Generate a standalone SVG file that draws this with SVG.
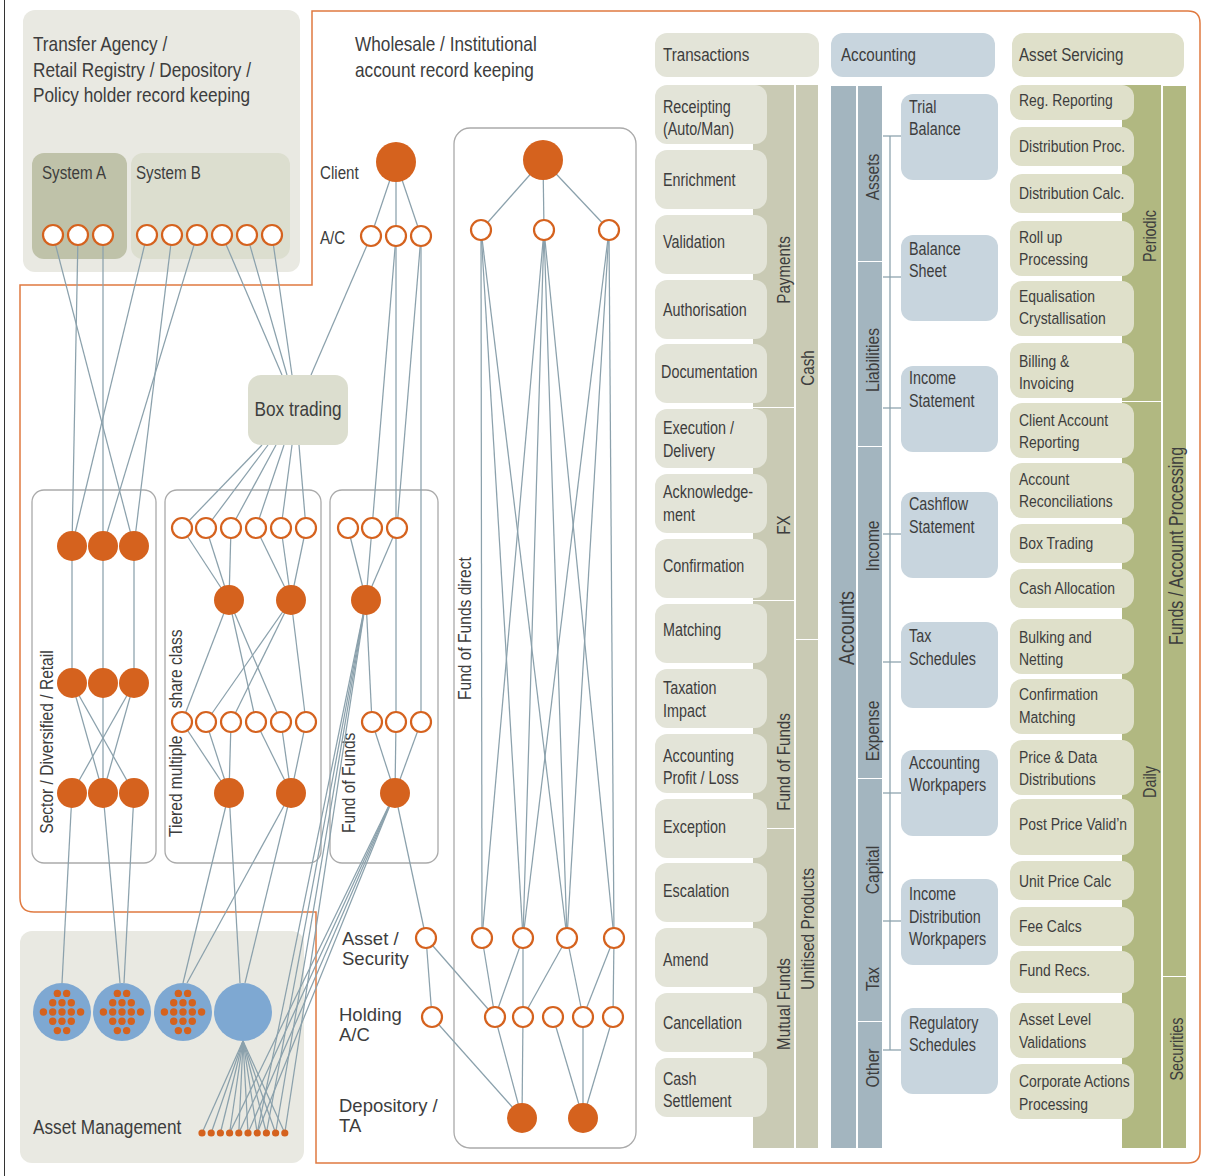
<svg xmlns="http://www.w3.org/2000/svg" width="1206" height="1176" viewBox="0 0 1206 1176">
<defs>
<style>
.t{font-family:"Liberation Sans",Arial,sans-serif;fill:#3d3d3d;font-size:17.5px}
.h{font-size:21px}
.hd{font-size:18.5px}
.w{font-family:"Liberation Sans",Arial,sans-serif;font-size:18.5px;fill:#3d3d3d}
.v{font-size:19px}
.oc{fill:#fff;stroke:#d5621e;stroke-width:2.2}
.fc{fill:#d5621e}
.ln{stroke:#8ba1ac;stroke-width:1.25;fill:none}
.grp{fill:none;stroke:#aaaaaa;stroke-width:1.3}
.bg{fill:#e9e9e2}
.tx{fill:#e3e4d8}
.txb{fill:#c9cab4}
.ac{fill:#c8d5de}
.acb{fill:#a3b5bf}
.as{fill:#dfe0ca}
.asb{fill:#b1b881}
.blue{fill:#7ea8d2}
</style>
<g id="dotpat" class="fc">
<circle cx="-4.65" cy="-18.6" r="3.7"/><circle cx="4.65" cy="-18.6" r="3.7"/>
<circle cx="-9.3" cy="-9.3" r="3.7"/><circle cx="0" cy="-9.3" r="3.7"/><circle cx="9.3" cy="-9.3" r="3.7"/>
<circle cx="-18.6" cy="0" r="3.7"/><circle cx="-9.3" cy="0" r="3.7"/><circle cx="0" cy="0" r="3.7"/><circle cx="9.3" cy="0" r="3.7"/><circle cx="18.6" cy="0" r="3.7"/>
<circle cx="-9.3" cy="9.3" r="3.7"/><circle cx="0" cy="9.3" r="3.7"/><circle cx="9.3" cy="9.3" r="3.7"/>
<circle cx="-4.65" cy="18.6" r="3.7"/><circle cx="4.65" cy="18.6" r="3.7"/>
</g>
</defs>
<rect width="1206" height="1176" fill="#fff"/>
<line x1="4.5" y1="0" x2="4.5" y2="1176" stroke="#333" stroke-width="1"/>

<g id="ta-panel">
<rect class="bg" x="23" y="10" width="277" height="262" rx="12"/>
<g class="t h" transform="translate(33 0) scale(.82 1)">
<text x="0" y="51.5">Transfer Agency /</text>
<text x="0" y="77.5">Retail Registry / Depository /</text>
<text x="0" y="102.5">Policy holder record keeping</text>
</g>
</g>
<g id="system-a"><rect x="32" y="153" width="95" height="106" rx="12" fill="#bfc2a9"/><text class="t hd" transform="translate(42 179) scale(.82 1)">System A</text></g>
<g id="system-b"><rect x="131" y="153" width="159" height="106" rx="12" fill="#dcdecf"/><text class="t hd" transform="translate(136 179) scale(.82 1)">System B</text></g>
<g id="am-panel"><rect class="bg" x="20" y="931" width="284" height="232" rx="12"/><text class="t h" transform="translate(33 1134) scale(.82 1)">Asset Management</text></g>

<path d="M312,285 L312,11 L1188,11 Q1200,11 1200,23 L1200,1151 Q1200,1163 1188,1163 L316,1163 L316,912 L34,912 Q20,912 20,898 L20,285 Z" fill="none" stroke="#e07a40" stroke-width="1.5"/>

<g id="wholesale-title" class="t h" transform="translate(355 0) scale(.82 1)">
<text x="0" y="51.5">Wholesale / Institutional</text>
<text x="0" y="77.5">account record keeping</text>
</g>

<g id="group-boxes">
<g id="sector-box"><rect class="grp" x="32" y="490" width="124" height="373" rx="12"/><text class="t v" transform="translate(53,742) rotate(-90) scale(.82 1)" text-anchor="middle">Sector / Diversified / Retail</text></g>
<g id="tiered-box"><rect class="grp" x="165" y="490" width="156" height="373" rx="12"/><text class="t v" transform="translate(182,837) rotate(-90) scale(.82 1)">Tiered multiple<tspan x="157">share class</tspan></text></g>
<g id="fof-box"><rect class="grp" x="330" y="490" width="108" height="373" rx="12"/><text class="t v" transform="translate(354.5,833) rotate(-90) scale(.82 1)">Fund of Funds</text></g>
<g id="fofd-box"><rect class="grp" x="454" y="128" width="182" height="1020" rx="16"/><text class="t v" transform="translate(471,700) rotate(-90) scale(.82 1)">Fund of Funds direct</text></g>
</g>

<g id="connectors" class="ln">
<line x1="53" y1="235" x2="134" y2="546"/><line x1="78" y1="235" x2="72" y2="546"/><line x1="103" y1="235" x2="103" y2="546"/>
<line x1="147" y1="235" x2="72" y2="546"/><line x1="172" y1="235" x2="134" y2="546"/><line x1="197" y1="235" x2="103" y2="546"/>
<line x1="222" y1="235" x2="282" y2="375"/><line x1="247" y1="235" x2="287" y2="375"/><line x1="272" y1="235" x2="292" y2="375"/>
<line x1="371" y1="236" x2="311" y2="375"/>
<line x1="396" y1="162" x2="371" y2="236"/><line x1="396" y1="162" x2="396" y2="236"/><line x1="396" y1="162" x2="421" y2="236"/>
<line x1="396" y1="236" x2="372" y2="528"/><line x1="396" y1="236" x2="396" y2="722"/><line x1="421" y1="236" x2="397" y2="528"/><line x1="421" y1="236" x2="421" y2="722"/>
<line x1="262" y1="445" x2="182" y2="528"/><line x1="268" y1="445" x2="206" y2="528"/><line x1="276" y1="445" x2="231" y2="528"/>
<line x1="284" y1="445" x2="256" y2="528"/><line x1="292" y1="445" x2="281" y2="528"/><line x1="299" y1="445" x2="306" y2="528"/>
<line x1="72" y1="546" x2="72" y2="683"/><line x1="103" y1="546" x2="103" y2="683"/><line x1="134" y1="546" x2="134" y2="683"/>
<line x1="72" y1="683" x2="103" y2="793"/><line x1="72" y1="683" x2="134" y2="793"/><line x1="103" y1="683" x2="103" y2="793"/>
<line x1="134" y1="683" x2="72" y2="793"/><line x1="134" y1="683" x2="103" y2="793"/>
<line x1="72" y1="793" x2="62" y2="983"/><line x1="103" y1="793" x2="120" y2="983"/><line x1="134" y1="793" x2="124" y2="983"/>
<line x1="182" y1="528" x2="229" y2="600"/><line x1="206" y1="528" x2="229" y2="600"/><line x1="231" y1="528" x2="229" y2="600"/>
<line x1="256" y1="528" x2="291" y2="600"/><line x1="281" y1="528" x2="291" y2="600"/><line x1="306" y1="528" x2="291" y2="600"/>
<line x1="229" y1="600" x2="182" y2="722"/><line x1="229" y1="600" x2="256" y2="722"/><line x1="229" y1="600" x2="281" y2="722"/>
<line x1="291" y1="600" x2="206" y2="722"/><line x1="291" y1="600" x2="231" y2="722"/><line x1="291" y1="600" x2="306" y2="722"/>
<line x1="182" y1="722" x2="229" y2="793"/><line x1="206" y1="722" x2="229" y2="793"/><line x1="231" y1="722" x2="229" y2="793"/>
<line x1="256" y1="722" x2="291" y2="793"/><line x1="281" y1="722" x2="291" y2="793"/><line x1="306" y1="722" x2="291" y2="793"/>
<line x1="229" y1="793" x2="183" y2="983"/><line x1="229" y1="793" x2="240" y2="983"/><line x1="291" y1="793" x2="187" y2="983"/><line x1="291" y1="793" x2="245" y2="983"/>
<line x1="348" y1="528" x2="366" y2="600"/><line x1="372" y1="528" x2="366" y2="600"/><line x1="397" y1="528" x2="366" y2="600"/>
<line x1="366" y1="600" x2="372" y2="722"/>
<line x1="372" y1="722" x2="395" y2="793"/><line x1="396" y1="722" x2="395" y2="793"/><line x1="421" y1="722" x2="395" y2="793"/>
<line x1="395" y1="793" x2="426" y2="938"/>
<line x1="366" y1="600" x2="257.2" y2="1133"/><line x1="366" y1="600" x2="266.4" y2="1133"/><line x1="366" y1="600" x2="275.6" y2="1133"/><line x1="366" y1="600" x2="284.8" y2="1133"/>
<line x1="395" y1="793" x2="229.6" y2="1133"/><line x1="395" y1="793" x2="238.8" y2="1133"/><line x1="395" y1="793" x2="248" y2="1133"/><line x1="395" y1="793" x2="257.2" y2="1133"/>
<line x1="243" y1="1041" x2="202" y2="1133"/><line x1="243" y1="1041" x2="211.2" y2="1133"/><line x1="243" y1="1041" x2="220.4" y2="1133"/><line x1="243" y1="1041" x2="229.6" y2="1133"/><line x1="243" y1="1041" x2="238.8" y2="1133"/>
<line x1="243" y1="1041" x2="248" y2="1133"/><line x1="243" y1="1041" x2="257.2" y2="1133"/><line x1="243" y1="1041" x2="266.4" y2="1133"/><line x1="243" y1="1041" x2="275.6" y2="1133"/><line x1="243" y1="1041" x2="284.8" y2="1133"/>
<line x1="543" y1="160" x2="481" y2="230"/><line x1="543" y1="160" x2="544" y2="230"/><line x1="543" y1="160" x2="609" y2="230"/>
<line x1="481" y1="230" x2="482" y2="938"/><line x1="481" y1="230" x2="523" y2="938"/><line x1="481" y1="230" x2="567" y2="938"/>
<line x1="544" y1="230" x2="482" y2="938"/><line x1="544" y1="230" x2="523" y2="938"/><line x1="544" y1="230" x2="567" y2="938"/><line x1="544" y1="230" x2="614" y2="938"/>
<line x1="609" y1="230" x2="523" y2="938"/><line x1="609" y1="230" x2="567" y2="938"/><line x1="609" y1="230" x2="614" y2="938"/>
<line x1="426" y1="938" x2="432" y2="1017"/><line x1="426" y1="938" x2="495" y2="1017"/><line x1="432" y1="1017" x2="522" y2="1118"/>
<line x1="482" y1="938" x2="495" y2="1017"/><line x1="523" y1="938" x2="495" y2="1017"/><line x1="523" y1="938" x2="523" y2="1017"/>
<line x1="567" y1="938" x2="523" y2="1017"/><line x1="567" y1="938" x2="583" y2="1017"/><line x1="614" y1="938" x2="583" y2="1017"/><line x1="614" y1="938" x2="613" y2="1017"/>
<line x1="495" y1="1017" x2="522" y2="1118"/><line x1="523" y1="1017" x2="522" y2="1118"/><line x1="553" y1="1017" x2="583" y2="1118"/><line x1="583" y1="1017" x2="583" y2="1118"/><line x1="613" y1="1017" x2="583" y2="1118"/>
<line x1="890" y1="136" x2="890" y2="1050"/>
<line x1="883" y1="136" x2="901" y2="136"/><line x1="883" y1="277" x2="901" y2="277"/><line x1="883" y1="408" x2="901" y2="408"/><line x1="883" y1="534" x2="901" y2="534"/>
<line x1="883" y1="662" x2="901" y2="662"/><line x1="883" y1="793" x2="901" y2="793"/><line x1="883" y1="921" x2="901" y2="921"/><line x1="883" y1="1050" x2="901" y2="1050"/>
</g>

<g id="box-trading"><rect x="248" y="375" width="100" height="70" rx="13" fill="#dcdecf"/><text class="t" transform="translate(298 415.5) scale(.82 1)" text-anchor="middle" style="font-size:21px">Box trading</text></g>

<g id="system-a-accounts" class="oc"><circle cx="53" cy="235" r="10"/><circle cx="78" cy="235" r="10"/><circle cx="103" cy="235" r="10"/></g>
<g id="system-b-accounts" class="oc"><circle cx="147" cy="235" r="10"/><circle cx="172" cy="235" r="10"/><circle cx="197" cy="235" r="10"/><circle cx="222" cy="235" r="10"/><circle cx="247" cy="235" r="10"/><circle cx="272" cy="235" r="10"/></g>

<g id="client"><circle class="fc" cx="396" cy="162" r="20"/><text class="t hd" transform="translate(320 178.5) scale(.82 1)">Client</text></g>
<g id="client-ac"><g class="oc"><circle cx="371" cy="236" r="10"/><circle cx="396" cy="236" r="10"/><circle cx="421" cy="236" r="10"/></g><text class="t hd" transform="translate(320 243.5) scale(.82 1)">A/C</text></g>

<g id="sector-funds" class="fc">
<circle cx="72" cy="546" r="15"/><circle cx="103" cy="546" r="15"/><circle cx="134" cy="546" r="15"/>
<circle cx="72" cy="683" r="15"/><circle cx="103" cy="683" r="15"/><circle cx="134" cy="683" r="15"/>
<circle cx="72" cy="793" r="15"/><circle cx="103" cy="793" r="15"/><circle cx="134" cy="793" r="15"/>
</g>
<g id="tiered-nodes">
<g class="oc"><circle cx="182" cy="528" r="10"/><circle cx="206" cy="528" r="10"/><circle cx="231" cy="528" r="10"/><circle cx="256" cy="528" r="10"/><circle cx="281" cy="528" r="10"/><circle cx="306" cy="528" r="10"/>
<circle cx="182" cy="722" r="10"/><circle cx="206" cy="722" r="10"/><circle cx="231" cy="722" r="10"/><circle cx="256" cy="722" r="10"/><circle cx="281" cy="722" r="10"/><circle cx="306" cy="722" r="10"/></g>
<g class="fc"><circle cx="229" cy="600" r="15"/><circle cx="291" cy="600" r="15"/><circle cx="229" cy="793" r="15"/><circle cx="291" cy="793" r="15"/></g>
</g>
<g id="fof-nodes">
<g class="oc"><circle cx="348" cy="528" r="10"/><circle cx="372" cy="528" r="10"/><circle cx="397" cy="528" r="10"/><circle cx="372" cy="722" r="10"/><circle cx="396" cy="722" r="10"/><circle cx="421" cy="722" r="10"/></g>
<g class="fc"><circle cx="366" cy="600" r="15"/><circle cx="395" cy="793" r="15"/></g>
</g>

<g id="am-funds">
<circle class="blue" cx="62" cy="1012" r="29"/><use href="#dotpat" x="62" y="1012"/>
<circle class="blue" cx="122" cy="1012" r="29"/><use href="#dotpat" x="122" y="1012"/>
<circle class="blue" cx="183" cy="1012" r="29"/><use href="#dotpat" x="183" y="1012"/>
<circle class="blue" cx="243" cy="1012" r="29"/>
</g>
<g id="am-dots" class="fc">
<circle cx="202" cy="1133" r="3.6"/><circle cx="211.2" cy="1133" r="3.6"/><circle cx="220.4" cy="1133" r="3.6"/><circle cx="229.6" cy="1133" r="3.6"/><circle cx="238.8" cy="1133" r="3.6"/>
<circle cx="248" cy="1133" r="3.6"/><circle cx="257.2" cy="1133" r="3.6"/><circle cx="266.4" cy="1133" r="3.6"/><circle cx="275.6" cy="1133" r="3.6"/><circle cx="284.8" cy="1133" r="3.6"/>
</g>

<g id="fofd-nodes">
<circle class="fc" cx="543" cy="160" r="20"/>
<g class="oc"><circle cx="481" cy="230" r="10"/><circle cx="544" cy="230" r="10"/><circle cx="609" cy="230" r="10"/>
<circle cx="482" cy="938" r="10"/><circle cx="523" cy="938" r="10"/><circle cx="567" cy="938" r="10"/><circle cx="614" cy="938" r="10"/>
<circle cx="495" cy="1017" r="10"/><circle cx="523" cy="1017" r="10"/><circle cx="553" cy="1017" r="10"/><circle cx="583" cy="1017" r="10"/><circle cx="613" cy="1017" r="10"/></g>
<g class="fc"><circle cx="522" cy="1118" r="15"/><circle cx="583" cy="1118" r="15"/></g>
</g>
<g id="asset-security"><circle class="oc" cx="426" cy="938" r="10"/><text class="w" x="342" y="945">Asset /</text><text class="w" x="342" y="965">Security</text></g>
<g id="holding-ac"><circle class="oc" cx="432" cy="1017" r="10"/><text class="w" x="339" y="1021">Holding</text><text class="w" x="339" y="1041">A/C</text></g>
<g id="depository-ta"><text class="w" x="339" y="1112">Depository /</text><text class="w" x="339" y="1132">TA</text></g>

<g id="transactions">
<rect class="tx" x="655" y="33" width="164" height="44" rx="12"/><text class="t hd" transform="translate(663 61) scale(.82 1)">Transactions</text>
<g class="txb">
<rect x="753" y="85" width="41" height="322"/><rect x="753" y="408" width="41" height="192"/><rect x="753" y="601" width="41" height="227"/><rect x="753" y="829" width="41" height="319"/>
<rect x="796" y="85" width="22" height="554"/><rect x="796" y="640" width="22" height="508"/>
</g>
<g class="t hd" text-anchor="middle">
<text transform="translate(790,270) rotate(-90) scale(.82 1)">Payments</text>
<text transform="translate(790,525) rotate(-90) scale(.82 1)">FX</text>
<text transform="translate(790,762) rotate(-90) scale(.82 1)">Fund of Funds</text>
<text transform="translate(790,1004) rotate(-90) scale(.82 1)">Mutual Funds</text>
<text transform="translate(814,368) rotate(-90) scale(.82 1)">Cash</text>
<text transform="translate(814,929) rotate(-90) scale(.82 1)" style="font-size:19px">Unitised Products</text>
</g>
<g class="tx">
<rect x="655" y="85" width="112" height="59" rx="12"/><rect x="655" y="150" width="112" height="59" rx="12"/><rect x="655" y="215" width="112" height="59" rx="12"/><rect x="655" y="280" width="112" height="59" rx="12"/>
<rect x="655" y="344" width="112" height="59" rx="12"/><rect x="655" y="409" width="112" height="59" rx="12"/><rect x="655" y="474" width="112" height="59" rx="12"/><rect x="655" y="539" width="112" height="59" rx="12"/>
<rect x="655" y="604" width="112" height="59" rx="12"/><rect x="655" y="669" width="112" height="59" rx="12"/><rect x="655" y="734" width="112" height="59" rx="12"/><rect x="655" y="799" width="112" height="59" rx="12"/>
<rect x="655" y="863" width="112" height="59" rx="12"/><rect x="655" y="928" width="112" height="59" rx="12"/><rect x="655" y="993" width="112" height="59" rx="12"/><rect x="655" y="1058" width="112" height="59" rx="12"/>
</g>
<g class="t" transform="translate(663 0) scale(.82 1)">
<text x="0" y="113">Receipting</text><text x="0" y="135">(Auto/Man)</text>
<text x="0" y="186">Enrichment</text>
<text x="0" y="248">Validation</text>
<text x="0" y="316">Authorisation</text>
<text x="-2.4" y="378">Documentation</text>
<text x="0" y="434">Execution /</text><text x="0" y="457">Delivery</text>
<text x="0" y="498">Acknowledge-</text><text x="0" y="521">ment</text>
<text x="0" y="572">Confirmation</text>
<text x="0" y="636">Matching</text>
<text x="0" y="694">Taxation</text><text x="0" y="717">Impact</text>
<text x="0" y="762">Accounting</text><text x="0" y="784">Profit / Loss</text>
<text x="0" y="833">Exception</text>
<text x="0" y="897">Escalation</text>
<text x="0" y="966">Amend</text>
<text x="0" y="1029">Cancellation</text>
<text x="0" y="1085">Cash</text><text x="0" y="1107">Settlement</text>
</g>
</g>

<g id="accounting">
<rect class="ac" x="831" y="33" width="164" height="44" rx="12"/><text class="t hd" transform="translate(841 61) scale(.82 1)">Accounting</text>
<g class="acb">
<rect x="831" y="86" width="25" height="1062"/>
<rect x="858" y="86" width="24" height="175"/><rect x="858" y="262" width="24" height="184"/><rect x="858" y="447" width="24" height="331"/><rect x="858" y="779" width="24" height="242"/><rect x="858" y="1022" width="24" height="126"/>
</g>
<text class="t" transform="translate(854,628) rotate(-90) scale(.82 1)" text-anchor="middle" style="font-size:22px">Accounts</text>
<g class="t" text-anchor="middle" style="font-size:19px">
<text transform="translate(879,177) rotate(-90) scale(.82 1)">Assets</text>
<text transform="translate(879,360) rotate(-90) scale(.82 1)">Liabilities</text>
<text transform="translate(879,546) rotate(-90) scale(.82 1)">Income</text>
<text transform="translate(879,731) rotate(-90) scale(.82 1)">Expense</text>
<text transform="translate(879,870) rotate(-90) scale(.82 1)">Capital</text>
<text transform="translate(879,979) rotate(-90) scale(.82 1)">Tax</text>
<text transform="translate(879,1068) rotate(-90) scale(.82 1)">Other</text>
</g>
<g class="ac">
<rect x="901" y="94" width="97" height="86" rx="12"/><rect x="901" y="235" width="97" height="86" rx="12"/><rect x="901" y="366" width="97" height="86" rx="12"/><rect x="901" y="492" width="97" height="86" rx="12"/>
<rect x="901" y="622" width="97" height="86" rx="12"/><rect x="901" y="750" width="97" height="86" rx="12"/><rect x="901" y="879" width="97" height="86" rx="12"/><rect x="901" y="1008" width="97" height="86" rx="12"/>
</g>
<g class="t" transform="translate(909 0) scale(.82 1)">
<text x="0" y="113">Trial</text><text x="0" y="135">Balance</text>
<text x="0" y="255">Balance</text><text x="0" y="277">Sheet</text>
<text x="0" y="384">Income</text><text x="0" y="407">Statement</text>
<text x="0" y="510">Cashflow</text><text x="0" y="533">Statement</text>
<text x="0" y="642">Tax</text><text x="0" y="665">Schedules</text>
<text x="0" y="769">Accounting</text><text x="0" y="791">Workpapers</text>
<text x="0" y="900">Income</text><text x="0" y="923">Distribution</text><text x="0" y="945">Workpapers</text>
<text x="0" y="1029">Regulatory</text><text x="0" y="1051">Schedules</text>
</g>
</g>

<g id="asset-servicing">
<rect class="as" x="1012" y="33" width="172" height="44" rx="12"/><text class="t hd" transform="translate(1019 61) scale(.82 1)">Asset Servicing</text>
<g class="asb">
<rect x="1122" y="85" width="39" height="316"/><rect x="1122" y="402" width="39" height="746"/>
<rect x="1163" y="86" width="23" height="890"/><rect x="1163" y="977" width="23" height="171"/>
</g>
<g class="t" text-anchor="middle">
<text transform="translate(1156,236) rotate(-90) scale(.82 1)">Periodic</text>
<text transform="translate(1156,782) rotate(-90) scale(.82 1)">Daily</text>
<text transform="translate(1183,546) rotate(-90) scale(.82 1)" style="font-size:19.5px">Funds / Account Processing</text>
<text transform="translate(1183,1049) rotate(-90) scale(.82 1)">Securities</text>
</g>
<g class="as">
<rect x="1010" y="85" width="124" height="35" rx="12"/><rect x="1010" y="127" width="124" height="39" rx="12"/><rect x="1010" y="174" width="124" height="39" rx="12"/>
<rect x="1010" y="221" width="124" height="55" rx="12"/><rect x="1010" y="281" width="124" height="55" rx="12"/><rect x="1010" y="343" width="124" height="55" rx="12"/>
<rect x="1010" y="403" width="124" height="55" rx="12"/><rect x="1010" y="463" width="124" height="55" rx="12"/><rect x="1010" y="524" width="124" height="39" rx="12"/>
<rect x="1010" y="569" width="124" height="39" rx="12"/><rect x="1010" y="619" width="124" height="55" rx="12"/><rect x="1010" y="679" width="124" height="55" rx="12"/>
<rect x="1010" y="740" width="124" height="55" rx="12"/><rect x="1010" y="799" width="124" height="56" rx="12"/><rect x="1010" y="861" width="124" height="39" rx="12"/>
<rect x="1010" y="907" width="124" height="39" rx="12"/><rect x="1010" y="951" width="124" height="42" rx="12"/><rect x="1010" y="1003" width="124" height="55" rx="12"/>
<rect x="1010" y="1064" width="124" height="55" rx="12"/>
</g>
<g class="t" transform="translate(1019 0) scale(.82 1)" style="font-size:17px">
<text x="0" y="106">Reg. Reporting</text>
<text x="0" y="152">Distribution Proc.</text>
<text x="0" y="199">Distribution Calc.</text>
<text x="0" y="243">Roll up</text><text x="0" y="265">Processing</text>
<text x="0" y="302">Equalisation</text><text x="0" y="324">Crystallisation</text>
<text x="0" y="367">Billing &amp;</text><text x="0" y="389">Invoicing</text>
<text x="0" y="426">Client Account</text><text x="0" y="448">Reporting</text>
<text x="0" y="485">Account</text><text x="0" y="507">Reconciliations</text>
<text x="0" y="549">Box Trading</text>
<text x="0" y="594">Cash Allocation</text>
<text x="0" y="643">Bulking and</text><text x="0" y="665">Netting</text>
<text x="0" y="700">Confirmation</text><text x="0" y="723">Matching</text>
<text x="0" y="763">Price &amp; Data</text><text x="0" y="785">Distributions</text>
<text x="0" y="830">Post Price Valid’n</text>
<text x="0" y="887">Unit Price Calc</text>
<text x="0" y="932">Fee Calcs</text>
<text x="0" y="976">Fund Recs.</text>
<text x="0" y="1025">Asset Level</text><text x="0" y="1048">Validations</text>
<text x="0" y="1087">Corporate Actions</text><text x="0" y="1110">Processing</text>
</g>
</g>
</svg>
